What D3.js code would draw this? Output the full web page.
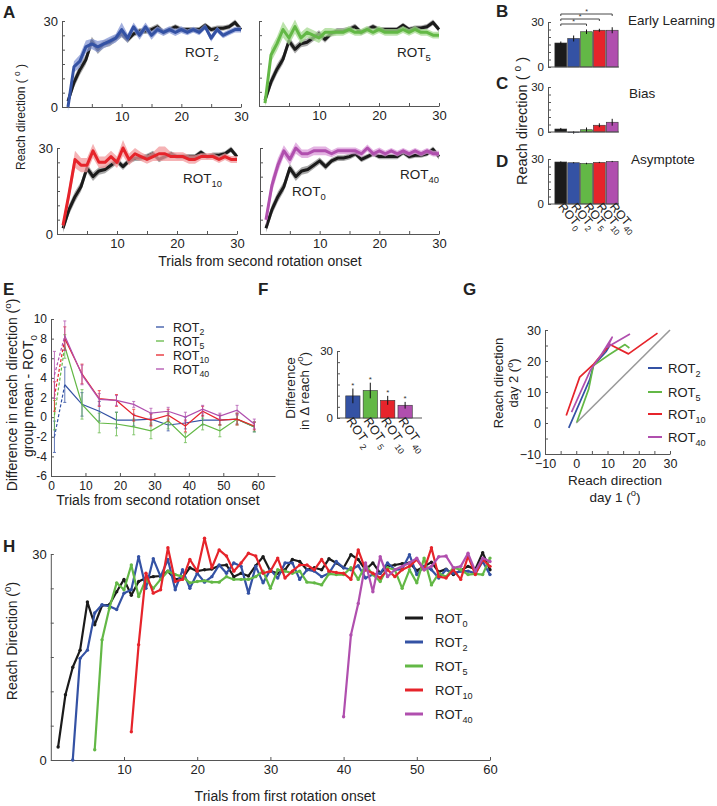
<!DOCTYPE html>
<html><head><meta charset="utf-8">
<script src="https://cdn.jsdelivr.net/npm/d3@7"></script>
<style>body{margin:0;background:#fff}</style>
</head><body><svg id="c" width="717" height="806"></svg>
<script>
// ---------------- DATA ----------------
const groups = ["ROT0","ROT2","ROT5","ROT10","ROT40"];
const groupSubs = ["0","2","5","10","40"];
const trialsA = [1,2,3,4,5,6,7,8,9,10,11,12,13,14,15,16,17,18,19,20,21,22,23,24,25,26,27,28,29,30];
// Panel A: mean reach direction after second rotation onset (deg) and SE
const aRot0  = [2,8.5,13,16.5,23,20,22,22.5,24,25.5,23.5,25.5,26.5,26.5,27,28,26,27,28,27,27,27,27,28.5,27,27.5,27.5,28,29.5,27];
const aRot0Se= [1.5,1.8,1.8,1.7,1.5,1.5,1.3,1.3,1.2,1.2,1.2,1.0,1.0,1.0,1.0,1.0,1.0,0.9,0.9,0.9,0.9,0.9,0.9,0.9,0.9,0.9,0.9,0.9,1.0,1.0];
const aRot2  = [0,14,16,21,22,21,22,23,24,27,24,28,25,28,25,27,26,27,26,27,26,27,26,28,24,27,25,26,27,27];
const aRot2Se= [1.5,2.0,2.2,2.2,1.8,2.0,1.5,1.5,1.5,2.5,1.5,1.5,1.5,1.5,1.5,1.2,1.2,1.2,1.2,1.2,1.0,1.0,1.0,1.0,1.2,1.0,1.0,1.0,1.0,1.0];
const aRot5  = [1,18,22,27,24,28,24,26,25,24,26,26,26,26,27,26,26,27,26,27,26,26,26,27,26,27,26,26,25,25];
const aRot5Se= [1.5,2.5,2.5,2.8,2.5,2.5,2.0,1.8,1.8,1.8,1.5,1.5,1.2,1.2,1.2,1.2,1.2,1.2,1.2,1.2,1.2,1.2,1.2,1.2,1.2,1.2,1.2,1.2,1.2,1.2];
const aRot10 = [3,14,26,24,24,29,25,25,27,25,30,26,28,27,26,27,28,28,27,27,27,26,26,27,27,27,26,27,26,26];
const aRot10Se=[1.5,2.5,3.0,2.5,2.5,2.5,2.0,2.0,2.0,2.0,2.8,2.0,2.0,1.5,1.5,1.5,2.5,2.5,1.5,1.5,1.5,1.5,1.5,1.2,1.2,1.2,1.2,1.2,1.2,1.2];
const aRot40 = [5,17,24,29,26,30,28,28,29,29,29,28,29,29,29,29,28,30,28,29,28,29,28,29,28,29,28,29,28,28];
const aRot40Se=[2.0,2.5,2.5,2.0,2.0,2.0,1.5,1.5,1.5,1.5,1.5,1.2,1.2,1.2,1.2,1.2,1.2,1.2,1.2,1.2,1.0,1.0,1.0,1.0,1.0,1.0,1.0,1.0,1.0,1.0];
// Panels B-D
const earlyLearning = [16,19,23.5,24.5,24.5];
const earlyErr      = [1.0,2.0,1.5,1.0,2.0];
const bias          = [2,-0.3,1.5,4.5,6.5];
const biasErr       = [0.7,0.8,1.5,1.3,2.3];
const asymptote     = [28,27.5,27,27.7,28.3];
const asymErr       = [0.4,0.4,0.5,0.4,0.4];
// Panel E: difference from ROT0
const eTrials = [1,4,9,14,19,24,29,34,39,44,49,54,59];
const eRot2  = [-2.0,3.3,1.3,0.6,-0.3,-0.3,-0.2,-0.8,-0.6,-0.3,-0.3,-0.2,-1.0];
const eRot2Err=[1.6,1.8,1.2,1.0,0.8,0.6,0.6,0.6,0.6,0.5,0.5,0.5,0.5];
const eRot5  = [0.2,7.2,1.3,-0.6,-0.7,-1.0,-1.4,-0.4,-2.1,-0.7,-1.4,-0.2,-1.0];
const eRot5Err=[1.5,1.2,1.5,1.0,1.2,0.8,0.8,0.8,0.5,0.6,0.6,0.6,0.5];
const eRot10 = [2.1,8.0,4.4,1.9,1.7,0.2,-0.3,0.2,-0.9,0.6,-0.3,-0.2,-0.9];
const eRot10Err=[1.5,1.2,1.0,0.8,0.6,0.6,0.6,0.6,0.6,0.5,0.5,0.6,0.4];
const eRot40 = [4.3,8.3,4.3,1.8,1.7,1.3,0.4,0.6,0.0,0.8,0.1,0.7,-0.7];
const eRot40Err=[2.4,1.5,1.0,0.6,0.5,0.3,0.5,0.4,0.5,0.4,0.3,0.5,0.5];
// Panel F
const fValues = [9.9,12.3,7.9,5.7];
const fErr    = [3.3,3.5,2.0,1.5];
// Panel G: [day1, day2]
const gRot2  = [[-2.4,-1.6],[4.3,14],[5.5,18.5],[9.5,23],[11,25.5]];
const gRot5  = [[0.2,0.3],[4,11],[5.5,18.5],[10.5,22],[15.6,25.3],[17,24.2]];
const gRot10 = [[-3.2,2.4],[1.1,14.8],[5.4,18.8],[10.8,25.3],[16.7,22.3],[26,29]];
const gRot40 = [[-1.5,3.5],[4.5,17],[8,22],[11.5,27.7],[10,24.5],[17.2,28.7]];
// Panel H: reach direction from first rotation onset, with first trial of each series
const hStart = [1,3,6,11,40];
const hRot0 = [1.9,9.5,13.5,16,23,19.7,22.5,22.6,24.5,26.3,24,26,26.5,26.7,26.8,27.5,26.3,26.5,28,27.5,27.7,27.8,28.3,28.4,26.7,27.2,26.8,28.3,29.6,27.5,27.2,27.7,29.2,28.9,27.7,28,27.7,29.3,28.7,28,29.9,29.2,27.7,28.7,27.2,28.2,28.4,28.6,28.7,27.6,28.2,28.8,27.4,27.8,27,27.6,28.2,27.8,30.2,27.7];
const hRot2 = [0,14.8,16,21.4,22.6,22.4,21.9,24.3,24.8,29.6,25,29.3,26.7,29.2,24.8,27.7,25,27.2,25.9,26.7,28.4,27.2,28.7,28.2,24.3,28.2,25.8,27.7,26.5,28.7,28.7,26.3,27.7,27.5,26.7,27.2,28.9,28,27.7,28.3,26.5,27,27.2,28.7,27.7,27.8,29.9,27,28.2,27.7,26.5,27.7,27.2,27.5,27.5,27.2,28.9,27];
const hRot5 = [1.5,17.5,22.1,25.8,24.8,28.4,23.8,26.3,25,26.3,27.5,27,26.7,25.8,26,26.1,25.9,25.9,26.7,26.3,26.3,26.3,26.7,27.5,25,27.7,27.5,27.2,27.5,25.9,25.8,25.5,27.1,27,27,28,26.3,28.4,27,26,28,27.7,25,27.7,25.8,29.4,25.5,27.2,26.7,28,27.7,27,27.1,27,29.4];
const hRot10 = [4.1,16.8,27.2,24.3,24.8,30.9,26,26.3,29.2,27.5,32.3,28,30.6,29.7,27.5,28.7,30.1,29.7,27.2,27.5,29.4,26.5,27.5,28.4,28.4,27.7,29.2,27.5,27.3,27.2,26.3,30.6,27.7,27.2,26.5,27.7,26.7,27.7,28.2,29.2,27.7,30.9,26.7,26.5,27.7,26.3,29.7,27,29.2,28.2];
const hRot40 = [6.3,18.2,22.8,28.7,24.5,29.6,26.7,27.7,28.2,28.7,29.4,27.7,28.2,29.6,29.7,28,28.2,30.1,27.5,29.4,28.9];

// ---------------- STYLE ----------------
const FONT = "'Liberation Sans', Arial, Helvetica, sans-serif";
const COLORS = ["#1b1b1b","#3452a4","#63b846","#e6242b","#b04fae"];
const BANDS  = ["#8c8c8c","#8597d4","#a6d990","#f29a9c","#d99ad8"];
const AX = "#555", TXT = "#222";

const svg = d3.select("#c");
svg.append("rect").attr("width",717).attr("height",806).attr("fill","#fff");

function styleAxis(g, fs){
  g.select(".domain").attr("stroke",AX).attr("stroke-width",1);
  g.selectAll(".tick line").attr("stroke",AX);
  g.selectAll(".tick text").attr("font-size",fs).attr("font-family",FONT).attr("fill",TXT);
}
function yAxis(scale, x, vals, lab, fs, fmt){
  const a = d3.axisLeft(scale).tickValues(vals).tickSizeInner(-3).tickSizeOuter(0).tickPadding(4)
    .tickFormat(d => lab.includes(d) ? (fmt ? fmt(d) : String(d)) : "");
  const g = svg.append("g").attr("transform",`translate(${x},0)`).call(a);
  styleAxis(g, fs); return g;
}
function xAxis(scale, y, vals, lab, fs, fmt){
  const a = d3.axisBottom(scale).tickValues(vals).tickSizeInner(-3).tickSizeOuter(0).tickPadding(5)
    .tickFormat(d => lab.includes(d) ? (fmt ? fmt(d) : String(d)) : "");
  const g = svg.append("g").attr("transform",`translate(0,${y})`).call(a);
  styleAxis(g, fs); return g;
}
function rich(sel, parts, fs){
  let shift = 0;
  parts.forEach(([t,k]) => {
    const target = k === "sub" ? 0.3*fs : (k === "sup" ? -0.42*fs : 0);
    sel.append("tspan").text(t).attr("font-size", k === "n" ? fs : fs*0.7).attr("dy", target - shift);
    shift = target;
  });
  return sel;
}
function label(x, y, parts, fs, opts = {}){
  const t = svg.append("text").attr("font-family",FONT).attr("fill",TXT)
    .attr("text-anchor", opts.anchor || "start");
  if (opts.rotate !== undefined) t.attr("transform",`translate(${x},${y}) rotate(${opts.rotate})`);
  else t.attr("x",x).attr("y",y);
  if (opts.bold) t.attr("font-weight","bold");
  rich(t, typeof parts === "string" ? [[parts,"n"]] : parts, fs);
  return t;
}
const rotParts = s => [["ROT","n"],[s,"sub"]];
const fmtMinus = d => d < 0 ? "\u2212" + Math.abs(d) : String(d);

// ---------------- PANEL A ----------------
const ticks5 = [0,5,10,15,20,25,30];
function panelA(xr, yr, showY, comp, compSe, ci){
  const x = d3.scaleLinear().domain([0,30]).range(xr);
  const y = d3.scaleLinear().domain([0,30]).range(yr);
  xAxis(x, yr[0], ticks5, [10,20,30], 13);
  yAxis(y, xr[0], ticks5, showY ? [0,30] : [], 13);
  const draw = (m, se, c) => {
    const area = d3.area().x((d,i)=>x(trialsA[i])).y0((d,i)=>y(m[i]-se[i])).y1((d,i)=>y(m[i]+se[i]));
    svg.append("path").attr("d", area(m)).attr("fill", BANDS[c]).attr("opacity",0.75);
    const line = d3.line().x((d,i)=>x(trialsA[i])).y(d=>y(d));
    svg.append("path").attr("d", line(m)).attr("fill","none").attr("stroke",COLORS[c])
      .attr("stroke-width",3).attr("stroke-linejoin","round");
  };
  draw(aRot0, aRot0Se, 0);
  draw(comp, compSe, ci);
}
panelA([62,241],[107,21], true, aRot2, aRot2Se, 1);
panelA([259,439],[106,21], false, aRot5, aRot5Se, 2);
panelA([57,237],[234,148], true, aRot10, aRot10Se, 3);
panelA([260,439],[234,148], false, aRot40, aRot40Se, 4);
label(185,57, rotParts("2"), 13.5);
label(397,57, rotParts("5"), 13.5);
label(183,183, rotParts("10"), 13.5);
label(292,196, rotParts("0"), 13.5);
label(400,179, rotParts("40"), 13.5);
label(25,117, [["Reach direction ( ","n"],["o","sup"],[" )","n"]], 12, {rotate:-90, anchor:"middle"});
label(260,266, "Trials from second rotation onset", 14, {anchor:"middle"});
label(3,18,"A",17,{bold:true});

// ---------------- PANELS B-D ----------------
const xb = d3.scaleBand().domain(groups).range([554.5,618.5]).paddingInner(0.08).paddingOuter(0.03);
function barPanel(yr, vals, errs){
  const y = d3.scaleLinear().domain([0,30]).range(yr);
  yAxis(y, 548, ticks5, [0,30], 11.5);
  svg.append("g").selectAll("rect").data(vals).join("rect")
    .attr("x",(d,i)=>xb(groups[i])).attr("width",xb.bandwidth())
    .attr("y",d=>Math.min(y(d),y(0))).attr("height",d=>Math.abs(y(d)-y(0)))
    .attr("fill",(d,i)=>COLORS[i]).attr("stroke","#333").attr("stroke-width",0.6);
  svg.append("g").selectAll("line").data(vals).join("line")
    .attr("x1",(d,i)=>xb(groups[i])+xb.bandwidth()/2).attr("x2",(d,i)=>xb(groups[i])+xb.bandwidth()/2)
    .attr("y1",(d,i)=>y(d-errs[i])).attr("y2",(d,i)=>y(d+errs[i]))
    .attr("stroke","#111").attr("stroke-width",1);
  svg.append("line").attr("x1",548).attr("x2",619).attr("y1",y(0)).attr("y2",y(0)).attr("stroke",AX);
  return y;
}
const yB = barPanel([67,22], earlyLearning, earlyErr);
barPanel([132,87], bias, biasErr);
barPanel([204,159], asymptote, asymErr);
// significance brackets (ROT0 vs ROT5, ROT10, ROT40)
const brackets = [[0,2,24],[0,3,19],[0,4,14]];
brackets.forEach(([a,b,yy])=>{
  const x1 = xb(groups[a])+xb.bandwidth()/2, x2 = xb(groups[b])+xb.bandwidth()/2;
  svg.append("path").attr("d",`M${x1},${yy+2}V${yy}H${x2}V${yy+2}`).attr("fill","none").attr("stroke","#333").attr("stroke-width",0.9);
  svg.append("text").attr("x",(x1+x2)/2).attr("y",yy-0.5).attr("text-anchor","middle")
    .attr("font-size",7).attr("font-family",FONT).attr("fill","#333").text("*");
});
groups.forEach((g,i)=>{
  const cx = xb(g)+xb.bandwidth()/2;
  const t = svg.append("text").attr("font-family",FONT).attr("fill",TXT)
    .attr("transform",`translate(${cx-3},207) rotate(50)`).attr("dy","0.72em");
  rich(t, rotParts(groupSubs[i]), 12);
});
label(628,25,"Early Learning",13.5);
label(629,98,"Bias",13.5);
label(631,164,"Asymptote",13.5);
label(527,121,[["Reach direction ( ","n"],["o","sup"],[" )","n"]],14.5,{rotate:-90,anchor:"middle"});
label(496,17,"B",17,{bold:true});
label(496,89,"C",17,{bold:true});
label(496,167,"D",17,{bold:true});

// ---------------- PANEL E ----------------
const xE = d3.scaleLinear().domain([0,65]).range([51,275]);
const yE = d3.scaleLinear().domain([-6,10]).range([476,319]);
xAxis(xE, 476, [0,10,20,30,40,50,60], [0,10,20,30,40,50,60], 12);
yAxis(yE, 51, [-6,-4,-2,0,2,4,6,8,10], [-6,-4,-2,0,2,4,6,8,10], 12);
const eSeries = [[eRot2,eRot2Err,1],[eRot5,eRot5Err,2],[eRot10,eRot10Err,3],[eRot40,eRot40Err,4]];
eSeries.forEach(([v,err,c])=>{
  const line = d3.line().x((d,i)=>xE(eTrials[i])).y(d=>yE(d));
  svg.append("path").attr("d", line(v.slice(0,2))).attr("fill","none").attr("stroke",COLORS[c])
    .attr("stroke-width",1.2).attr("stroke-dasharray","3,2");
  svg.append("path").attr("d", d3.line().x((d,i)=>xE(eTrials[i+1])).y(d=>yE(d))(v.slice(1)))
    .attr("fill","none").attr("stroke",COLORS[c]).attr("stroke-width",1.2);
  const g = svg.append("g").attr("stroke",COLORS[c]).attr("stroke-width",0.9).attr("opacity",0.85);
  v.forEach((d,i)=>{
    const xx = xE(eTrials[i]);
    g.append("line").attr("x1",xx).attr("x2",xx).attr("y1",yE(d-err[i])).attr("y2",yE(d+err[i]));
    g.append("line").attr("x1",xx-1.5).attr("x2",xx+1.5).attr("y1",yE(d-err[i])).attr("y2",yE(d-err[i]));
    g.append("line").attr("x1",xx-1.5).attr("x2",xx+1.5).attr("y1",yE(d+err[i])).attr("y2",yE(d+err[i]));
  });
});
["2","5","10","40"].forEach((s,i)=>{
  const yy = 327 + i*14;
  svg.append("line").attr("x1",156).attr("x2",164).attr("y1",yy).attr("y2",yy).attr("stroke",COLORS[i+1]).attr("stroke-width",1.3);
  label(173, yy+4.5, rotParts(s), 12.5);
});
label(17,395,[["Difference in reach direction (","n"],["o","sup"],[")","n"]],14,{rotate:-90,anchor:"middle"});
label(33,396,[["group mean - ROT","n"],["0","sub"]],14,{rotate:-90,anchor:"middle"});
label(158,505,"Trials from second rotation onset",14,{anchor:"middle"});
label(3,295,"E",17,{bold:true});

// ---------------- PANEL F ----------------
const fGroups = groups.slice(1);
const xF = d3.scaleBand().domain(fGroups).range([344,414]).paddingInner(0.18).paddingOuter(0.1);
const yF = d3.scaleLinear().domain([0,30]).range([418,351]);
yAxis(yF, 337, ticks5, [0,30], 11.5);
svg.append("line").attr("x1",337).attr("x2",422).attr("y1",418).attr("y2",418).attr("stroke",AX);
svg.append("g").selectAll("rect").data(fValues).join("rect")
  .attr("x",(d,i)=>xF(fGroups[i])).attr("width",xF.bandwidth())
  .attr("y",d=>yF(d)).attr("height",d=>yF(0)-yF(d))
  .attr("fill",(d,i)=>COLORS[i+1]).attr("stroke","#333").attr("stroke-width",0.6);
fValues.forEach((d,i)=>{
  const cx = xF(fGroups[i])+xF.bandwidth()/2;
  svg.append("line").attr("x1",cx).attr("x2",cx).attr("y1",yF(d-fErr[i])).attr("y2",yF(d+fErr[i])).attr("stroke","#111");
  svg.append("text").attr("x",cx).attr("y",yF(d+fErr[i])-1).attr("text-anchor","middle")
    .attr("font-size",8).attr("font-family",FONT).attr("fill","#333").text("*");
  const t = svg.append("text").attr("font-family",FONT).attr("fill",TXT)
    .attr("transform",`translate(${cx-7},421) rotate(55)`).attr("dy","0.72em");
  rich(t, [["ROT","n"],[" "+groupSubs[i+1],"sub"]], 12.5);
});
label(295,388,"Difference",13.5,{rotate:-90,anchor:"middle"});
label(309,391,[["in \u0394 reach (","n"],["o","sup"],[")","n"]],13.5,{rotate:-90,anchor:"middle"});
label(258,295,"F",17,{bold:true});

// ---------------- PANEL G ----------------
const xG = d3.scaleLinear().domain([-10,30]).range([545,670]);
const yG = d3.scaleLinear().domain([-10,30]).range([454,330]);
const gT = [-10,-5,0,5,10,15,20,25,30];
xAxis(xG, 454, gT, [-10,0,10,20,30], 12.5, fmtMinus);
yAxis(yG, 545, gT, [-10,0,10,20,30], 12.5, fmtMinus);
svg.append("line").attr("x1",xG(0)).attr("y1",yG(0)).attr("x2",xG(30)).attr("y2",yG(30))
  .attr("stroke","#9a9a9a").attr("stroke-width",1.6);
[[gRot2,1],[gRot5,2],[gRot10,3],[gRot40,4]].forEach(([pts,c])=>{
  svg.append("path").attr("d", d3.line().x(d=>xG(d[0])).y(d=>yG(d[1]))(pts))
    .attr("fill","none").attr("stroke",COLORS[c]).attr("stroke-width",1.7).attr("stroke-linejoin","round");
});
["2","5","10","40"].forEach((s,i)=>{
  const yy = [368,392,414,437][i];
  svg.append("line").attr("x1",648).attr("x2",662).attr("y1",yy).attr("y2",yy).attr("stroke",COLORS[i+1]).attr("stroke-width",2);
  label(668, yy+5, rotParts(s), 13);
});
label(503,383,"Reach direction",13,{rotate:-90,anchor:"middle"});
label(518,383,[["day 2 (","n"],["o","sup"],[")","n"]],13,{rotate:-90,anchor:"middle"});
label(615,485,"Reach direction",13.5,{anchor:"middle"});
label(615,502,[["day 1 (","n"],["o","sup"],[")","n"]],13.5,{anchor:"middle"});
label(463,295,"G",17,{bold:true});

// ---------------- PANEL H ----------------
const xH = d3.scaleLinear().domain([0,60]).range([50.8,490]);
const yH = d3.scaleLinear().domain([0,30]).range([760,554]);
xAxis(xH, 760, [10,20,30,40,50,60], [10,20,30,40,50,60], 13);
yAxis(yH, 50.8, ticks5, [0,30], 13);
[hRot0,hRot2,hRot5,hRot10,hRot40].forEach((v,c)=>{
  const line = d3.line().x((d,i)=>xH(hStart[c]+i)).y(d=>yH(d));
  svg.append("path").attr("d", line(v)).attr("fill","none").attr("stroke",COLORS[c])
    .attr("stroke-width",2.2).attr("stroke-linejoin","round");
  svg.append("g").selectAll("circle").data(v).join("circle")
    .attr("cx",(d,i)=>xH(hStart[c]+i)).attr("cy",d=>yH(d)).attr("r",1.7).attr("fill",COLORS[c]);
});
groupSubs.forEach((s,i)=>{
  const yy = 618 + i*24;
  svg.append("line").attr("x1",405).attr("x2",423).attr("y1",yy).attr("y2",yy).attr("stroke",COLORS[i]).attr("stroke-width",3);
  label(435, yy+5, rotParts(s), 13);
});
label(17,641,[["Reach Direction (","n"],["0","sup"],[")","n"]],14,{rotate:-90,anchor:"middle"});
label(285,801,"Trials from first rotation onset",14,{anchor:"middle"});
label(3,552,"H",17,{bold:true});
</script>
</body></html>
